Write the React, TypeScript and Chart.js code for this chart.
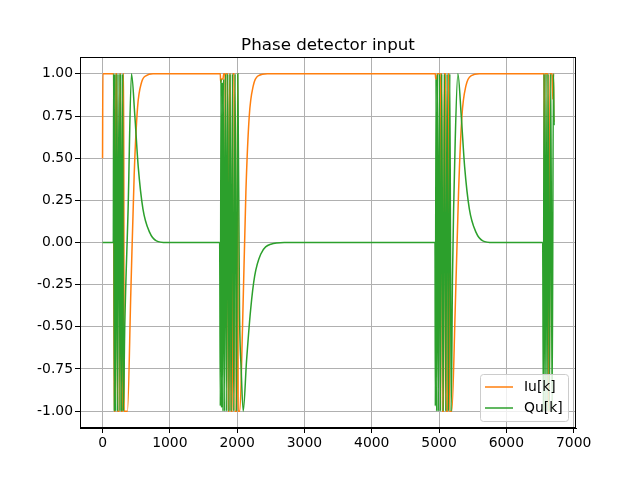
import { Chart, registerables } from 'chart.js';
import { useEffect, useRef } from 'react';

Chart.register(...registerables);

const title = 'Phase detector input';
const seriesNames = ['Iu[k]', 'Qu[k]'];
const xTicks = [0, 1000, 2000, 3000, 4000, 5000, 6000, 7000];
const yTicks = [-1, -0.75, -0.5, -0.25, 0, 0.25, 0.5, 0.75, 1];

const iuK = [0, 5, 165, 170, 190, 195, 215, 220, 250, 255, 270, 275, 300, 305, 315, 320, 370, 420, 470, 520, 580, 650, 750,
  1750, 1755, 1770, 1790, 1800, 1820, 1825, 1830, 1860, 1865, 1880, 1885, 1900, 1905, 1930, 1935, 1960, 1965, 2000, 2005, 2010, 2015, 2040,
  2080, 2130, 2180, 2240, 2320, 2450,
  4945, 4950, 4970, 4975, 5010, 5015, 5020, 5040, 5045, 5070, 5075, 5100, 5105, 5130, 5135, 5150, 5155, 5190,
  5240, 5290, 5340, 5400, 5480, 5600,
  6560, 6565, 6570, 6620, 6625, 6640, 6645, 6680, 6690, 6700, 6705, 6720];
const iuV = [0.5, 1, 1, -1, -1, 1, 1, -1, -1, 1, 1, -1, -1, 1, 1, -1, -1, -0.3, 0.4, 0.8, 0.95, 0.99, 1,
  1, 0.95, 0.97, 0.97, 1, 1, 0, 1, 1, -1, -1, 1, 1, -1, -1, 1, 1, -1, -1, 1, 1, -1, -1,
  -0.5, 0.3, 0.75, 0.93, 0.99, 1,
  1, 0.97, 0.97, 1, 1, 0, 1, 1, -1, -1, 1, 1, -1, -1, 1, 1, -1, -1,
  -0.4, 0.3, 0.75, 0.93, 0.99, 1,
  1, 0, 1, 1, -1, -1, 1, 1, 0.85, 1, 0.72, 0.72];

const quK = [0, 160, 165, 175, 185, 195, 215, 225, 245, 260, 270, 285, 300, 310, 330, 380, 430, 480, 530, 600, 700, 800, 950,
  1740, 1750, 1760, 1770, 1780, 1790, 1800, 1815, 1830, 1845, 1860, 1880, 1895, 1910, 1930, 1950, 1970, 1990, 2010, 2035,
  2060, 2090, 2140, 2200, 2260, 2350, 2500, 2700,
  4940, 4945, 4955, 4965, 4975, 4990, 5005, 5020, 5040, 5060, 5080, 5100, 5120, 5140, 5160, 5180, 5200,
  5240, 5280, 5330, 5380, 5450, 5550, 5650, 5800,
  6540, 6550, 6560, 6575, 6590, 6605, 6620, 6640, 6660, 6680, 6700, 6710, 6720];
const quV = [0, 0, 1, -1, 1, -1, 1, -1, 1, -1, 1, -1, 1, -1, -0.5, 0.2, 1, 0.75, 0.45, 0.2, 0.06, 0.01, 0,
  0, -0.97, 0.97, -0.98, 0.95, -1, 0.97, -1, 1, -1, 1, -1, 1, -1, 1, -1, 1, -1, 1, -0.4,
  -0.75, -1, -0.7, -0.4, -0.2, -0.07, -0.01, 0,
  0, -0.97, 0.97, -1, 1, -1, 1, -1, 1, -1, 1, -1, 1, -1, 1, -1, -0.2,
  0.6, 1, 0.75, 0.45, 0.2, 0.06, 0.01, 0,
  0, -1, 1, -1, 1, -1, 1, -1, 1, -1, 1, 0.7, 0.7];

const colors = ['#ff7f0e', '#2ca02c'];
const font = { family: 'DejaVu Sans', size: 13.9 };

const overlay = {
  id: 'overlay',
  afterDraw(chart: Chart) {
    const { ctx, chartArea: a } = chart;
    ctx.save();
    // frame
    ctx.strokeStyle = '#000';
    ctx.lineWidth = 1;
    ctx.strokeRect(a.left + 0.5, a.top + 0.5, a.right - a.left - 1, a.bottom - a.top - 1);
    ctx.fillStyle = '#000';
    ctx.font = '16.7px "DejaVu Sans"';
    ctx.textAlign = 'center';
    ctx.textBaseline = 'alphabetic';
    ctx.fillText(title, (a.left + a.right) / 2, a.top - 7);
    // legend
    const w = 88, h = 47, x = a.right - 8 - w, y = a.bottom - 7 - h;
    ctx.fillStyle = 'rgba(255,255,255,0.8)';
    ctx.strokeStyle = '#cccccc';
    ctx.beginPath();
    ctx.roundRect(x + 0.5, y + 0.5, w, h, 3);
    ctx.fill();
    ctx.stroke();
    ctx.font = '13.9px "DejaVu Sans"';
    ctx.textAlign = 'left';
    ctx.textBaseline = 'middle';
    seriesNames.forEach((n, i) => {
      const ly = y + 13 + i * 21;
      ctx.strokeStyle = colors[i];
      ctx.lineWidth = 1.5;
      ctx.beginPath();
      ctx.moveTo(x + 5, ly);
      ctx.lineTo(x + 33, ly);
      ctx.stroke();
      ctx.fillStyle = '#000';
      ctx.fillText(n, x + 44, ly);
    });
    ctx.restore();
  },
};

const App = () => {
  const ref = useRef<HTMLCanvasElement>(null);
  useEffect(() => {
    if (!ref.current) return;
    const mk = (k: number[], v: number[]) => k.map((x, i) => ({ x, y: v[i] }));
    const chart = new Chart(ref.current, {
      type: 'line',
      data: {
        datasets: [
          { label: seriesNames[0], data: mk(iuK, iuV), borderColor: colors[0], borderWidth: 1.5, pointRadius: 0, cubicInterpolationMode: 'monotone', order: 2 },
          { label: seriesNames[1], data: mk(quK, quV), borderColor: colors[1], borderWidth: 1.5, pointRadius: 0, cubicInterpolationMode: 'monotone', order: 1 },
        ],
      },
      options: {
        responsive: false,
        animation: false,
        layout: { padding: { top: 57, right: 64, left: 0, bottom: 0 } },
        plugins: { legend: { display: false }, title: { display: false }, tooltip: { enabled: false } },
        scales: {
          x: {
            type: 'linear', min: -335, max: 7035,
            afterBuildTicks: (s: any) => { s.ticks = xTicks.map((value) => ({ value })); },
            afterFit: (s: any) => { s.height = 52; },
            ticks: { color: '#000', font, maxRotation: 0, padding: 2, callback: (v: any) => String(v) },
            grid: { color: '#b0b0b0', tickColor: '#000', tickLength: 5 },
            border: { color: '#000' },
          },
          y: {
            min: -1.1, max: 1.1,
            afterBuildTicks: (s: any) => { s.ticks = yTicks.map((value) => ({ value })); },
            afterFit: (s: any) => { s.width = 80; },
            ticks: { color: '#000', font, padding: 2, callback: (v: any) => Number(v).toFixed(2) },
            grid: { color: '#b0b0b0', tickColor: '#000', tickLength: 5 },
            border: { color: '#000' },
          },
        },
      },
      plugins: [overlay],
    });
    return () => chart.destroy();
  }, []);
  return <canvas ref={ref} width={640} height={480} style={{ display: 'block', position: 'absolute', left: 0, top: 0 }} />;
};

export default App;
